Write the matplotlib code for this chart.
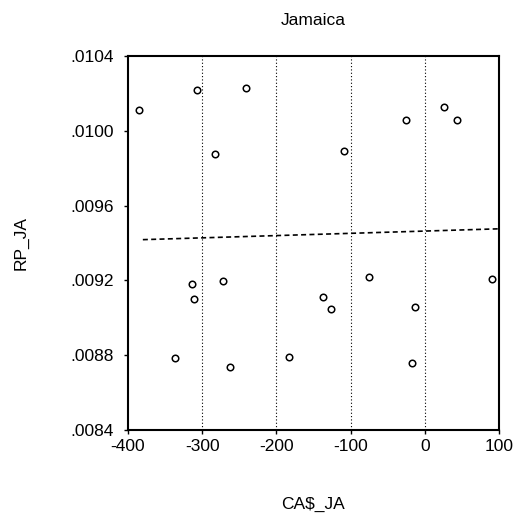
import matplotlib
matplotlib.use('Agg')
import matplotlib.pyplot as plt
import numpy as np
from matplotlib.ticker import FuncFormatter

ca_ja = [-385, -307, -241, -283, -109, -25, 26, 43,
         -314, -311, -272, -337, -262, -183, -137, -126,
         -75, -13, -17, 91]
rp_ja = [0.01011, 0.01022, 0.01023, 0.009876, 0.00989, 0.01006, 0.01013, 0.01006,
         0.009181, 0.009101, 0.009197, 0.008785, 0.008737, 0.00879, 0.009111, 0.009047,
         0.009218, 0.009058, 0.008758, 0.009208]
fit_x = [-380, 100]
fit_y = [0.009418, 0.009476]
grid_x = [-300, -200, -100, 0]
x_ticks = [-400, -300, -200, -100, 0, 100]
y_ticks = [0.0084, 0.0088, 0.0092, 0.0096, 0.0100, 0.0104]

plt.rcParams['font.family'] = ['Liberation Sans', 'DejaVu Sans']
plt.rcParams['axes.unicode_minus'] = False

fig = plt.figure(figsize=(5.17, 5.19), dpi=100)
ax = fig.add_axes([0.2476, 0.1715, 0.7174, 0.7205])

for gx in grid_x:
    ax.axvline(gx, color='black', linestyle=(0, (1, 2)), linewidth=0.8)

ax.plot(fit_x, fit_y, color='black', linestyle=(0, (3, 2)), linewidth=1.2)
ax.scatter(ca_ja, rp_ja, s=22, facecolors='white', edgecolors='black', linewidths=1.1, zorder=3)

ax.set_xlim(-400, 100)
ax.set_ylim(0.0084, 0.0104)
ax.set_xticks(x_ticks)
ax.set_yticks(y_ticks)
ax.yaxis.set_major_formatter(FuncFormatter(lambda v, p: f'{v:.4f}'.lstrip('0')))
ax.tick_params(direction='out', length=3, width=1, labelsize=12.5)
ax.tick_params(axis='y', pad=7)

for s in ax.spines.values():
    s.set_linewidth(1.5)

ax.set_title('Jamaica', fontsize=12.5, pad=22)
ax.set_xlabel('CA\\$_JA', fontsize=12.5, labelpad=31)
ax.set_ylabel('RP_JA', fontsize=12.5, labelpad=30)

plt.savefig('out.png', dpi=100)
